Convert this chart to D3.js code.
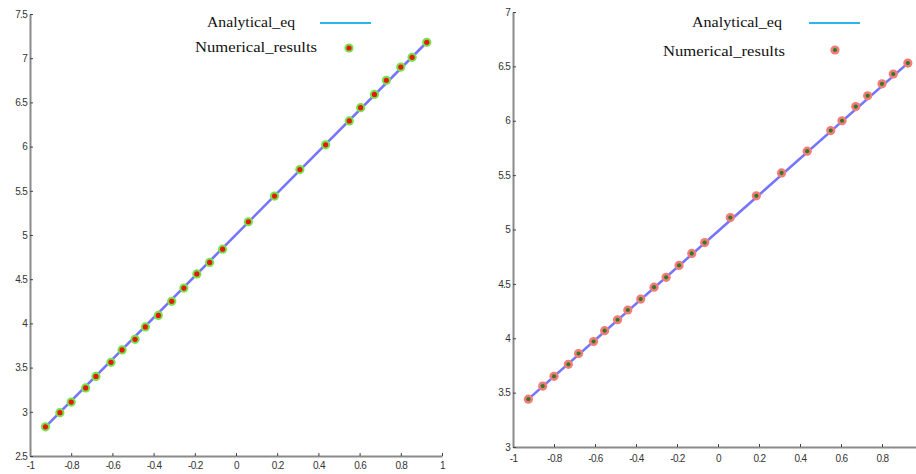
<!DOCTYPE html>
<html>
<head>
<meta charset="utf-8">
<script src="https://cdn.jsdelivr.net/npm/d3@7"></script>
<style>
  body { margin: 0; background: #ffffff; }
  svg { display: block; }
</style>
</head>
<body>
<div id="chart"></div>
<script>
// x positions of the collocation points (shared by both panels)
const xNodes = [-0.925, -0.855, -0.80, -0.73, -0.68, -0.607, -0.553, -0.49, -0.44, -0.377,
  -0.312, -0.253, -0.19, -0.128, -0.065, 0.06, 0.187, 0.31, 0.435, 0.55,
  0.605, 0.672, 0.73, 0.80, 0.855, 0.926];

// left panel numerical values
const leftNumerical = [2.83, 2.99, 3.11, 3.27, 3.40, 3.56, 3.70, 3.82, 3.96, 4.09,
  4.25, 4.40, 4.56, 4.69, 4.84, 5.15, 5.44, 5.74, 6.02, 6.29,
  6.44, 6.59, 6.75, 6.90, 7.01, 7.18];

// right panel numerical values
const rightNumerical = [3.44, 3.56, 3.65, 3.76, 3.86, 3.97, 4.07, 4.17, 4.26, 4.36,
  4.47, 4.56, 4.67, 4.78, 4.88, 5.11, 5.31, 5.52, 5.72, 5.91,
  6.00, 6.13, 6.23, 6.34, 6.43, 6.53];

// analytical line end points
const analyticalX = [-0.925, 0.926];
const leftAnalytical = [2.83, 7.18];
const rightAnalytical = [3.44, 6.53];

// tick labels
const leftXTicks = [-1, -0.8, -0.6, -0.4, -0.2, 0, 0.2, 0.4, 0.6, 0.8, 1];
const rightXTicks = [-1, -0.8, -0.6, -0.4, -0.2, 0, 0.2, 0.4, 0.6, 0.8];
const leftYTicks = [2.5, 3, 3.5, 4, 4.5, 5, 5.5, 6, 6.5, 7, 7.5];
const rightYTicks = [3, 3.5, 4, 4.5, 5, 5.5, 6, 6.5, 7];

const legendLabels = ["Analytical_eq", "Numerical_results"];

const W = 916, H = 474;
const svg = d3.select("#chart").append("svg")
  .attr("width", W).attr("height", H);

const defs = svg.append("defs");
const blur = defs.append("filter").attr("id", "soft")
  .attr("x", "-50%").attr("y", "-50%").attr("width", "200%").attr("height", "200%");
blur.append("feGaussianBlur").attr("stdDeviation", 0.6);

function fmt(d) {
  return String(d);
}

function drawPanel(opt) {
  const x = d3.scaleLinear().domain([-1, 1]).range(opt.xRange);
  const y = d3.scaleLinear().domain(opt.yDomain).range(opt.yRange);
  const g = svg.append("g");

  // axes, ticks point inward
  const xAxis = d3.axisBottom(x).tickValues(opt.xTicks).tickFormat(fmt)
    .tickSizeInner(-3).tickSizeOuter(0).tickPadding(opt.xPad);
  const yAxis = d3.axisLeft(y).tickValues(opt.yTicks).tickFormat(fmt)
    .tickSizeInner(-3).tickSizeOuter(0).tickPadding(3);

  const gx = g.append("g").attr("transform", `translate(0,${opt.yRange[0]})`).call(xAxis);
  const gy = g.append("g").attr("transform", `translate(${opt.xRange[0]},0)`).call(yAxis);

  [gx, gy].forEach(a => {
    a.select(".domain").attr("stroke", "#8a8a8a").attr("stroke-width", 2);
    a.selectAll(".tick line").attr("stroke", "#444").attr("stroke-width", 1);
    a.selectAll(".tick text")
      .attr("fill", "#333")
      .style("font-family", "'Liberation Sans', Arial, sans-serif")
      .style("font-size", "10px")
      .style("letter-spacing", "-0.7px");
  });

  // analytical line
  const line = d3.line().x(d => x(d[0])).y(d => y(d[1]));
  g.append("path")
    .datum(analyticalX.map((v, i) => [v, opt.analytical[i]]))
    .attr("d", line)
    .attr("fill", "none")
    .attr("stroke", "#7474ff")
    .attr("stroke-width", 2.6)
    .attr("filter", "url(#soft)");

  // numerical points
  const pts = xNodes.map((v, i) => [v, opt.numerical[i]]);
  const dots = g.append("g").selectAll("g").data(pts).enter().append("g")
    .attr("transform", d => `translate(${x(d[0])},${y(d[1])})`);
  dots.append("circle").attr("r", 4.6).attr("fill", opt.halo).attr("filter", "url(#soft)");
  dots.append("circle").attr("r", opt.coreR).attr("fill", opt.core);

  // legend
  const lg = g.append("g")
    .style("font-family", "'Liberation Serif', 'Times New Roman', serif")
    .style("font-size", "14px")
    .attr("fill", "#111");
  lg.append("text").attr("x", opt.leg.t1[0]).attr("y", opt.leg.t1[1])
    .attr("textLength", opt.leg.t1[2]).attr("lengthAdjust", "spacingAndGlyphs")
    .text(legendLabels[0]);
  lg.append("text").attr("x", opt.leg.t2[0]).attr("y", opt.leg.t2[1])
    .attr("textLength", opt.leg.t2[2]).attr("lengthAdjust", "spacingAndGlyphs")
    .text(legendLabels[1]);
  lg.append("line")
    .attr("x1", opt.leg.line[0]).attr("x2", opt.leg.line[1])
    .attr("y1", opt.leg.line[2]).attr("y2", opt.leg.line[2])
    .attr("stroke", "#2bb5ea").attr("stroke-width", 1.8);
  lg.append("circle").attr("cx", opt.leg.mark[0]).attr("cy", opt.leg.mark[1])
    .attr("r", 4.6).attr("fill", opt.halo).attr("filter", "url(#soft)");
  lg.append("circle").attr("cx", opt.leg.mark[0]).attr("cy", opt.leg.mark[1])
    .attr("r", opt.coreR).attr("fill", opt.core);
}

drawPanel({
  xRange: [30, 442], yDomain: [2.5, 7.5], yRange: [456, 14],
  xTicks: leftXTicks, yTicks: leftYTicks, xPad: 6,
  numerical: leftNumerical, analytical: leftAnalytical,
  halo: "#74e24e", core: "#e41a0c", coreR: 2.6,
  leg: { t1: [207, 27, 88], t2: [195, 52, 122], line: [320, 371, 23], mark: [349, 48] }
});

drawPanel({
  xRange: [513, 923], yDomain: [3, 7], yRange: [447, 12],
  xTicks: rightXTicks, yTicks: rightYTicks, xPad: 8,
  numerical: rightNumerical, analytical: rightAnalytical,
  halo: "#f47b78", core: "#2f7a2a", coreR: 2.1,
  leg: { t1: [692, 27, 90], t2: [663, 56, 122], line: [809, 860, 23], mark: [835, 50] }
});
</script>
</body>
</html>
